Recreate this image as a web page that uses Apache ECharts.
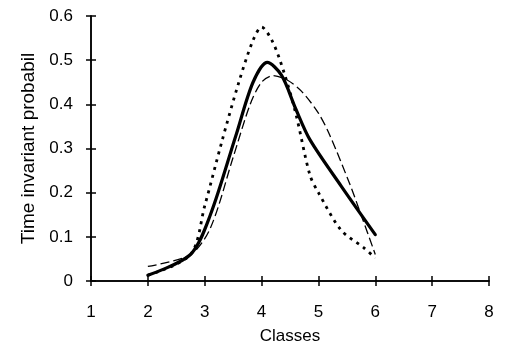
<!DOCTYPE html>
<html>
<head>
<meta charset="utf-8">
<script src="https://cdn.jsdelivr.net/npm/echarts@6/dist/echarts.min.js"></script>
<style>
html,body{margin:0;padding:0;background:#fff;}
#chart{width:506px;height:351px;}
</style>
</head>
<body>
<div id="chart"></div>
<script>
// Class index vs. time invariant probability, three estimates
const xTicks = [1, 2, 3, 4, 5, 6, 7, 8];
const yTicks = [0, 0.1, 0.2, 0.3, 0.4, 0.5, 0.6];

const solidX  = [2, 2.75, 3.1, 3.55, 3.85, 4.1, 4.35, 4.6, 4.85, 5.4, 6];
const solidY  = [0.013, 0.06, 0.15, 0.33, 0.45, 0.495, 0.466, 0.39, 0.32, 0.215, 0.105];

const dottedX = [2, 2.75, 3.0, 3.3, 3.6, 3.85, 4.0, 4.2, 4.4, 4.6, 4.85, 5.0, 5.4, 5.8, 6.0];
const dottedY = [0.013, 0.06, 0.17, 0.315, 0.45, 0.545, 0.575, 0.54, 0.47, 0.38, 0.24, 0.2, 0.115, 0.075, 0.052];

const dashX   = [2, 2.75, 3.1, 3.5, 3.8, 4.0, 4.2, 4.45, 4.7, 5.0, 5.2, 5.55, 5.75, 6.0];
const dashY   = [0.033, 0.06, 0.12, 0.28, 0.4, 0.45, 0.465, 0.455, 0.43, 0.38, 0.33, 0.22, 0.15, 0.06];

function pts(xs, ys) { return xs.map((x, i) => [x, ys[i]]); }

const chart = echarts.init(document.getElementById('chart'), null, {renderer: 'canvas'});
const font = '"Liberation Sans", Arial, sans-serif';
const axisLine = {show: true, lineStyle: {color: '#000', width: 1.5}};
const tickStyle = {color: '#000', width: 1.5};

chart.setOption({
  animation: false,
  grid: {left: 91, right: 17, top: 16, bottom: 70, containLabel: false},
  xAxis: [
    {
      type: 'value', min: xTicks[0], max: xTicks[xTicks.length - 1], interval: 1,
      position: 'bottom',
      name: 'Classes', nameLocation: 'middle', nameGap: 47,
      nameTextStyle: {fontFamily: font, fontSize: 17, color: '#000'},
      axisLine: axisLine,
      axisTick: {show: true, length: 5, lineStyle: tickStyle},
      axisLabel: {fontFamily: font, fontSize: 17, color: '#000', margin: 23},
      splitLine: {show: false}
    },
    {
      type: 'value', min: xTicks[0], max: xTicks[xTicks.length - 1], interval: 1,
      position: 'bottom', offset: 0,
      axisLine: axisLine,
      axisTick: {show: true, inside: true, length: 5, lineStyle: tickStyle},
      axisLabel: {show: false},
      splitLine: {show: false}
    }
  ],
  yAxis: [
    {
      type: 'value', min: yTicks[0], max: yTicks[yTicks.length - 1], interval: 0.1,
      position: 'left',
      name: 'Time invariant probabil', nameLocation: 'middle', nameGap: 49,
      nameTextStyle: {fontFamily: font, fontSize: 19, color: '#000'},
      axisLine: axisLine,
      axisTick: {show: true, length: 5, lineStyle: tickStyle},
      axisLabel: {fontFamily: font, fontSize: 17, color: '#000', margin: 18},
      splitLine: {show: false}
    },
    {
      type: 'value', min: yTicks[0], max: yTicks[yTicks.length - 1], interval: 0.1,
      position: 'left', offset: 0,
      axisLine: axisLine,
      axisTick: {show: true, inside: true, length: 5, lineStyle: tickStyle},
      axisLabel: {show: false},
      splitLine: {show: false}
    }
  ],
  series: [
    {
      type: 'line', data: pts(dashX, dashY), smooth: 0.3, showSymbol: false,
      lineStyle: {color: '#000', width: 1.3, type: [9, 4], cap: 'butt'}
    },
    {
      type: 'line', data: pts(dottedX, dottedY), smooth: 0.3, showSymbol: false,
      lineStyle: {color: '#000', width: 2.8, type: [3, 5], cap: 'butt'}
    },
    {
      type: 'line', data: pts(solidX, solidY), smooth: 0.3, showSymbol: false,
      lineStyle: {color: '#000', width: 3.2, cap: 'round', join: 'round'}
    }
  ]
});
</script>
</body>
</html>
